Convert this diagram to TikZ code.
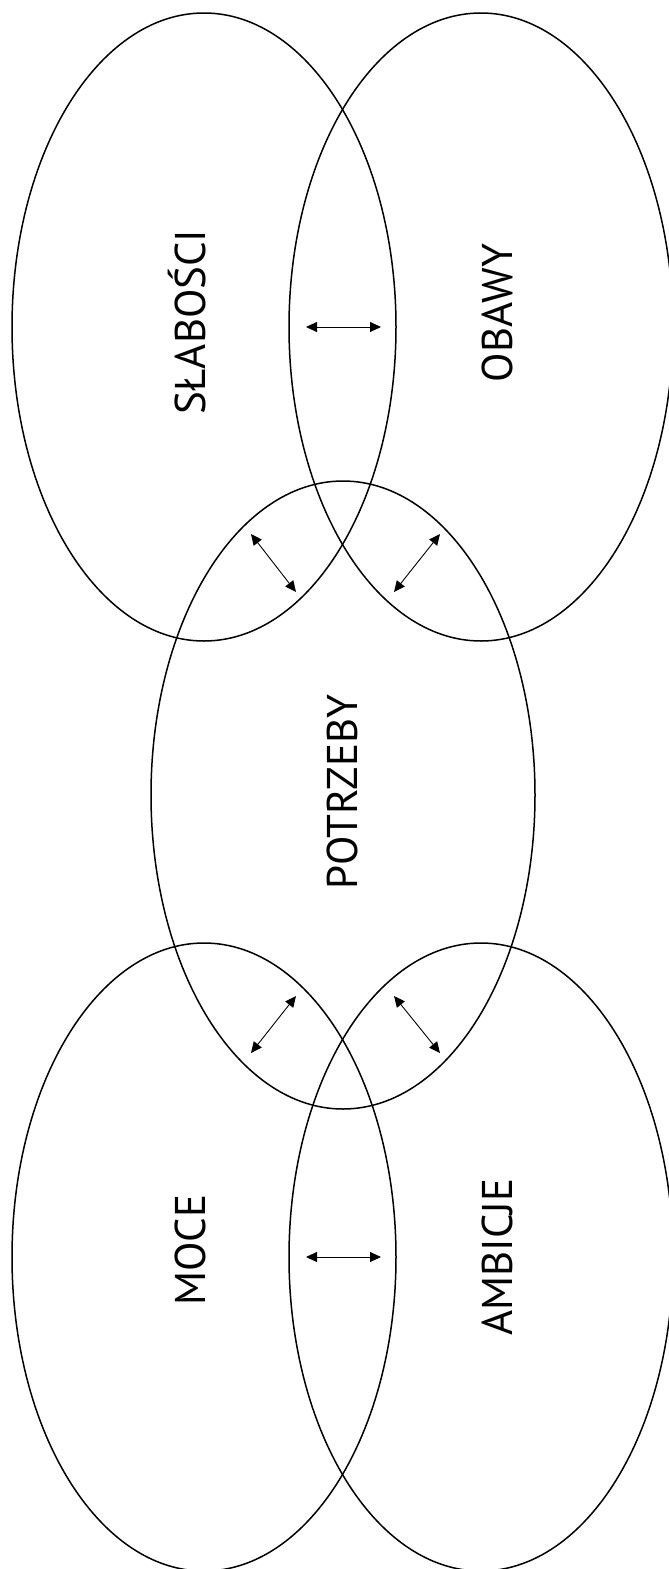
\documentclass[tikz,border=0pt]{standalone}
\usepackage{fontspec}
\setmainfont{PT Sans}
\usetikzlibrary{positioning,arrows.meta,shapes.geometric}

\begin{document}
\begin{tikzpicture}[
      x=1pt, y=-1pt,
      oval/.style={draw, ellipse, line width=1.5pt, minimum width=384pt, minimum height=628pt, inner sep=0pt},
      caption/.style={rotate=90, anchor=base, inner sep=0pt, font=\fontsize{43}{43}\selectfont},
      arrow/.style={{Triangle[length=11pt,width=10pt]}-{Triangle[length=11pt,width=10pt]}, line width=0.9pt}
    ]
    \useasboundingbox (0,0) rectangle (669,1569);

    \node[oval] (slab) at (204,327) {};
    \node[oval] (obaw) at (481,327) {};
    \node[oval] (potrz) at (343,795) {};
    \node[oval] (moce) at (204,1257) {};
    \node[oval] (ambi) at (481,1257) {};

    \node[caption] (slab_txt) at (205,322) {SŁABOŚCI};
    \node[caption] (obaw_txt) at (512,313) {OBAWY};
    \node[caption] (potrz_txt) at (357,792) {POTRZEBY};
    \node[caption] (moce_txt) at (205,1250) {MOCE};
    \node[caption] (ambi_txt) at (512,1257) {AMBICJE};

    % arrow ends inside the overlaps
    \coordinate (so_l) at (306,327);
    \coordinate (so_r) at (381,327);
    \coordinate (sp_a) at (251,534);
    \coordinate (sp_b) at (296,592);
    \coordinate (op_a) at (440,534);
    \coordinate (op_b) at (394,592);
    \coordinate (mp_a) at (296,996);
    \coordinate (mp_b) at (251,1053);
    \coordinate (ap_a) at (394,996);
    \coordinate (ap_b) at (440,1053);
    \coordinate (ma_l) at (306,1257);
    \coordinate (ma_r) at (381,1257);

    \draw[arrow] (so_l) -- (so_r);
    \draw[arrow] (sp_a) -- (sp_b);
    \draw[arrow] (op_a) -- (op_b);
    \draw[arrow] (mp_a) -- (mp_b);
    \draw[arrow] (ap_a) -- (ap_b);
    \draw[arrow] (ma_l) -- (ma_r);
  \end{tikzpicture}
\end{document}
